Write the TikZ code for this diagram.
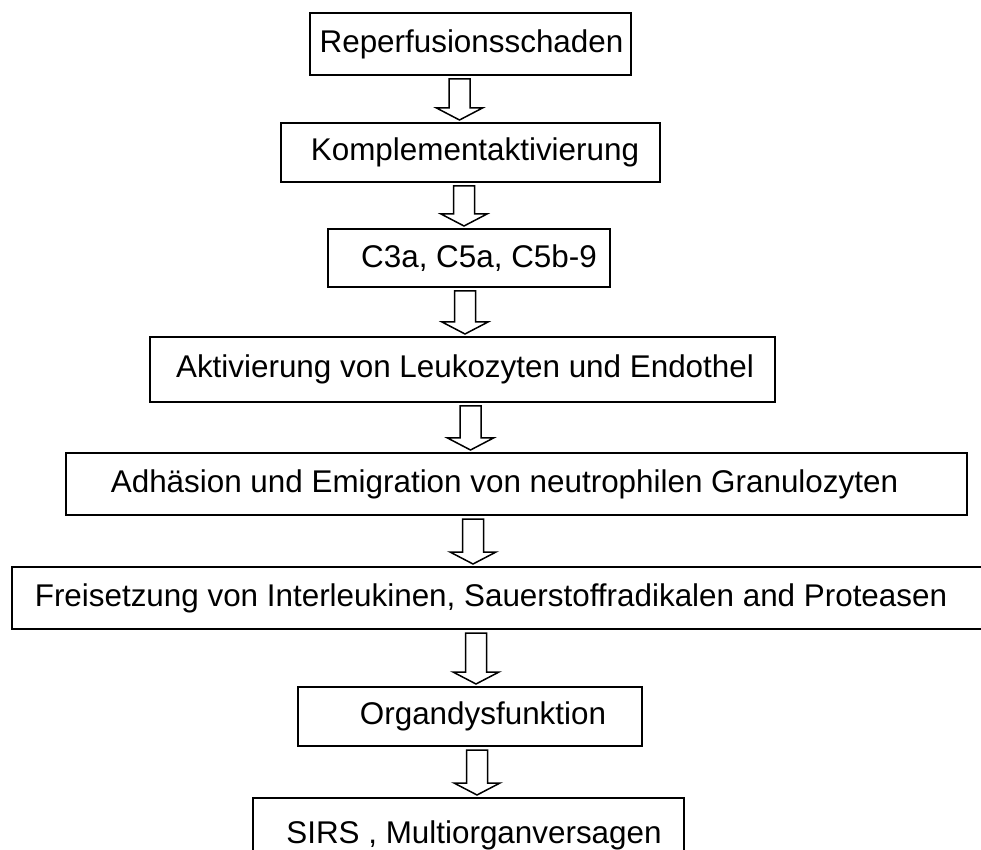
\documentclass[tikz,border=0pt]{standalone}
\usepackage{fontspec}
\setmainfont{Liberation Sans}
\usetikzlibrary{calc}
\tikzset{stagebox/.style={ % one step of the cascade
			draw,
			line width=1pt,
			rectangle,
			inner sep=0pt,
			font=\fontsize{15.7}{18}\selectfont},
		hollow arrow/.style={
			draw,
			line width=0.75pt,
			fill=white,
			line join=miter}}
% block arrow below node #2 down to node #3, shifted by #1 from #2's centre
\newcommand{\flowarrow}[3]{%
	\draw[hollow arrow] let \p1=($(#2.south)+(#1,0)$), \p2=($(#3.north)+(#1,0)$) in
		(\x1-5.25pt,\y1-1.5pt) -- (\x1+5.25pt,\y1-1.5pt) -- (\x1+5.25pt,\y2+7pt)
		-- (\x1+11.5pt,\y2+7pt) -- (\x1,\y2+1pt) -- (\x1-11.5pt,\y2+7pt)
		-- (\x1-5.25pt,\y2+7pt) -- cycle;}

\begin{document}
\begin{tikzpicture}[x=0.5pt,y=-0.5pt]
			\clip (0,0) rectangle (981,850);
			\node[stagebox, minimum width=160.5pt, minimum height=31pt] (R) at (470.5,44) {\hspace*{1pt}Reperfusionsschaden};
			\node[stagebox, minimum width=189.5pt, minimum height=29.5pt] (K) at (470.5,152.5) {\hspace*{4.5pt}Komplementaktivierung};
			\node[stagebox, minimum width=141pt, minimum height=29pt] (C) at (469,258) {\hspace*{10pt}C3a, C5a, C5b-9};
			\node[stagebox, minimum width=312.5pt, minimum height=32.5pt] (L) at (462.5,369.5) {\hspace*{2.5pt}Aktivierung von Leukozyten und Endothel};
			\node[stagebox, minimum width=450.5pt, minimum height=31pt] (N) at (516.5,484) {Adhäsion und Emigration von neutrophilen Granulozyten\hspace*{12pt}};
			\node[stagebox, minimum width=491.5pt, minimum height=31pt] (F) at (503.5,598) {Freisetzung von Interleukinen, Sauerstoffradikalen and Proteasen\hspace*{12.5pt}};
			\node[stagebox, minimum width=172pt, minimum height=29.5pt] (O) at (470,716.5) {\hspace*{13pt}Organdysfunktion};
			\node[stagebox, minimum width=215.5pt, minimum height=37pt] (S) at (468.5,835) {\hspace*{5.5pt}SIRS , Multiorganversagen};
			
			\flowarrow{-11}{R}{K}
			\flowarrow{-6.5}{K}{C}
			\flowarrow{-4}{C}{L}
			\flowarrow{8}{L}{N}
			\flowarrow{-43.5}{N}{F}
			\flowarrow{-27.5}{F}{O}
			\flowarrow{7}{O}{S}
		\end{tikzpicture}
\end{document}
